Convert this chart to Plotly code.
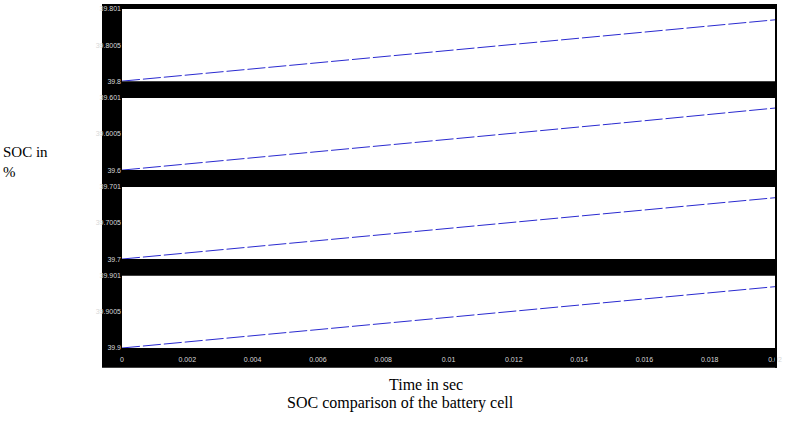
import plotly.graph_objects as go

time_s = [0.0, 0.005, 0.01, 0.015, 0.02]
soc_cell1 = [39.8, 39.80021, 39.80043, 39.80064, 39.80085]
soc_cell2 = [39.6, 39.60021, 39.60043, 39.60064, 39.60086]
soc_cell3 = [39.7, 39.70021, 39.70043, 39.70064, 39.70085]
soc_cell4 = [39.9, 39.90021, 39.90043, 39.90064, 39.90085]
base_vals = [39.8, 39.6, 39.7, 39.9]
x_ticks = [0, 0.002, 0.004, 0.006, 0.008, 0.01, 0.012, 0.014, 0.016, 0.018, 0.02]
x_tick_text = ["0", "0.002", "0.004", "0.006", "0.008", "0.01", "0.012", "0.014", "0.016", "0.018", "0.02"]

series = [soc_cell1, soc_cell2, soc_cell3, soc_cell4]

W, H = 793, 428
L, R, T, B = 122, 775, 5, 348
pw, ph = R - L, B - T

def px(x):
    return (x - L) / pw

def py(y):
    return (B - y) / ph

panels = [(5, 78), (95, 168), (185, 258), (275, 348)]

fig = go.Figure()
layout = dict(
    width=W, height=H,
    margin=dict(l=L, r=W - R, t=T, b=H - B),
    paper_bgcolor="white", plot_bgcolor="rgba(0,0,0,0)",
    showlegend=False,
)
shapes = [dict(type="rect", xref="paper", yref="paper",
               x0=px(102), x1=px(777), y0=py(368), y1=py(0),
               fillcolor="black", line=dict(width=0), layer="below")]
tickfont = dict(family="Arial", size=7, color="#d8d8d8")
for i, (s, (top, bot)) in enumerate(zip(series, panels)):
    n = i + 1
    xa = "x" if n == 1 else f"x{n}"
    ya = "y" if n == 1 else f"y{n}"
    fig.add_trace(go.Scatter(x=time_s, y=s, mode="lines", xaxis=xa, yaxis=ya,
                             line=dict(color="#2a2ad0", width=1, dash="18px,3px")))
    b0 = base_vals[i]
    yvals = [b0, b0 + 0.0005, b0 + 0.001]
    ytext = [f"{b0:g}", f"{b0 + 0.0005:.4f}", f"{b0 + 0.001:.3f}"]
    layout[f"xaxis{'' if n == 1 else n}"] = dict(
        domain=[0, 1], range=[0, 0.02], anchor=ya,
        showgrid=False, zeroline=False, showline=False,
        tickvals=x_ticks, ticktext=x_tick_text, tickfont=tickfont,
        showticklabels=(n == 4), ticks="outside", ticklen=5, tickcolor="black",
        matches="x" if n != 1 else None,
    )
    layout[f"yaxis{'' if n == 1 else n}"] = dict(
        domain=[py(bot), py(top)], range=[b0, b0 + 0.001], anchor=xa,
        showgrid=False, zeroline=False, showline=False,
        tickvals=yvals, ticktext=ytext, tickfont=tickfont, ticks="",
    )
    shapes.append(dict(type="rect", xref="paper", yref="paper",
                       x0=0, x1=1, y0=py(bot), y1=py(top),
                       fillcolor="white", line=dict(width=0), layer="below"))
# right border line
shapes.append(dict(type="line", xref="paper", yref="paper",
                   x0=px(776), x1=px(776), y0=py(368), y1=py(0),
                   line=dict(color="black", width=2)))
layout["shapes"] = shapes
serif = "Liberation Serif, Times New Roman, serif"
layout["annotations"] = [
    dict(text="SOC in<br>%", xref="paper", yref="paper", x=px(1), y=py(140),
         xanchor="left", yanchor="top", align="left", showarrow=False,
         font=dict(family=serif, size=15, color="black")),
    dict(text="Time in sec", xref="paper", yref="paper", x=px(426), y=py(385),
         xanchor="center", yanchor="middle", showarrow=False,
         font=dict(family=serif, size=16, color="black")),
    dict(text="SOC comparison of the battery cell", xref="paper", yref="paper",
         x=px(400), y=py(404), xanchor="center", yanchor="middle", showarrow=False,
         font=dict(family=serif, size=16, color="black")),
]
fig.update_layout(**layout)
fig.write_html("out.html")
